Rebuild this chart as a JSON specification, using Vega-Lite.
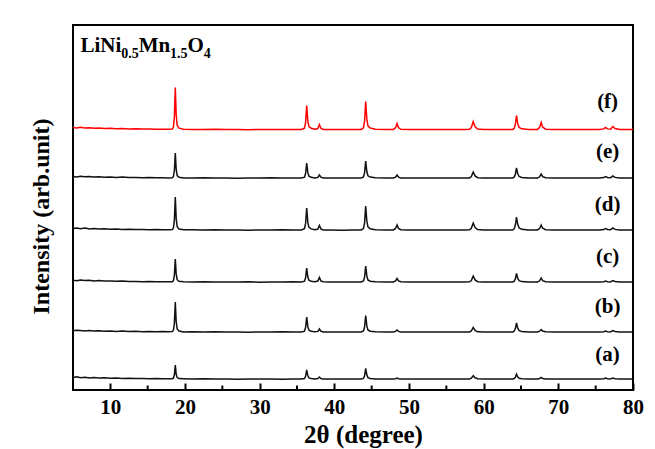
{
"$schema":"https://vega.github.io/schema/vega-lite/v6.json",
"width":560,"height":365,
"autosize":{"type":"none"},
"padding":{"left":73,"top":25,"right":22,"bottom":59},
"background":"white",
"config":{"view":{"stroke":"black","strokeWidth":2}},
"layer":[
{"data":{"values":[
{"x":5.0,"a":12.5,"b":59.2,"c":109.8,"d":161.4,"e":213.6,"f":262.5},
{"x":5.5,"a":13.2,"b":59.8,"c":109.2,"d":162.0,"e":213.1,"f":262.1},
{"x":6.0,"a":12.2,"b":59.5,"c":110.0,"d":161.3,"e":213.8,"f":262.7},
{"x":6.6,"a":12.8,"b":59.0,"c":109.4,"d":161.9,"e":213.2,"f":262.0},
{"x":7.2,"a":12.0,"b":59.6,"c":109.7,"d":161.1,"e":213.5,"f":262.3},
{"x":7.8,"a":12.5,"b":59.1,"c":109.0,"d":161.6,"e":212.9,"f":261.8},
{"x":8.5,"a":11.9,"b":59.3,"c":109.4,"d":161.0,"e":213.3,"f":261.9},
{"x":9.2,"a":12.3,"b":58.8,"c":108.9,"d":161.3,"e":212.8,"f":261.5},
{"x":10.0,"a":11.8,"b":59.1,"c":109.1,"d":160.8,"e":213.1,"f":261.7},
{"x":10.8,"a":12.1,"b":58.6,"c":108.7,"d":161.0,"e":212.6,"f":261.3},
{"x":11.6,"a":11.6,"b":58.9,"c":108.9,"d":160.6,"e":212.9,"f":261.4},
{"x":12.5,"a":11.8,"b":58.5,"c":108.5,"d":160.8,"e":212.4,"f":261.1},
{"x":13.4,"a":11.4,"b":58.7,"c":108.6,"d":160.4,"e":212.6,"f":261.2},
{"x":14.3,"a":11.6,"b":58.3,"c":108.3,"d":160.5,"e":212.3,"f":260.9},
{"x":15.2,"a":11.3,"b":58.5,"c":108.5,"d":160.3,"e":212.4,"f":261.0},
{"x":16.1,"a":11.4,"b":58.2,"c":108.2,"d":160.4,"e":212.2,"f":260.7},
{"x":17.0,"a":11.2,"b":58.4,"c":108.3,"d":160.2,"e":212.3,"f":260.8},
{"x":17.8,"a":11.3,"b":58.2,"c":108.2,"d":160.3,"e":212.1,"f":260.7},
{"x":18.3,"a":11.3,"b":58.4,"c":108.3,"d":160.4,"e":212.3,"f":260.9},
{"x":18.45,"a":11.8,"b":59.8,"c":109.4,"d":162.0,"e":213.5,"f":263.0},
{"x":18.58,"a":15.2,"b":67.0,"c":114.9,"d":169.9,"e":219.5,"f":273.1},
{"x":18.7,"a":25,"b":88,"c":131,"d":193,"e":237,"f":302.5},
{"x":18.82,"a":15.9,"b":68.5,"c":116.1,"d":171.6,"e":220.8,"f":275.2},
{"x":18.95,"a":12.4,"b":61.0,"c":110.3,"d":163.3,"e":214.5,"f":264.7},
{"x":19.2,"a":11.4,"b":58.9,"c":108.7,"d":161.0,"e":212.8,"f":261.8},
{"x":19.8,"a":11.2,"b":58.1,"c":108.2,"d":160.2,"e":212.1,"f":260.7},
{"x":21.0,"a":10.9,"b":58.3,"c":107.9,"d":160.3,"e":211.9,"f":260.6},
{"x":22.5,"a":11.2,"b":57.9,"c":108.2,"d":159.9,"e":212.2,"f":260.4},
{"x":24.0,"a":10.9,"b":58.2,"c":107.9,"d":160.2,"e":211.9,"f":260.7},
{"x":25.5,"a":11.1,"b":57.9,"c":108.1,"d":159.9,"e":212.1,"f":260.4},
{"x":27.0,"a":10.8,"b":58.1,"c":107.9,"d":160.1,"e":211.8,"f":260.6},
{"x":28.5,"a":11.1,"b":57.8,"c":108.2,"d":159.8,"e":212.1,"f":260.3},
{"x":30.0,"a":10.9,"b":58.1,"c":107.8,"d":160.1,"e":211.9,"f":260.6},
{"x":31.5,"a":11.1,"b":57.9,"c":108.1,"d":159.9,"e":212.2,"f":260.4},
{"x":33.0,"a":10.8,"b":58.2,"c":107.9,"d":160.2,"e":211.9,"f":260.6},
{"x":34.5,"a":11.1,"b":57.9,"c":108.2,"d":159.9,"e":212.1,"f":260.4},
{"x":35.6,"a":11.0,"b":58.1,"c":108.0,"d":160.1,"e":212.0,"f":260.6},
{"x":36.0,"a":11.5,"b":58.9,"c":108.8,"d":161.3,"e":212.9,"f":261.9},
{"x":36.15,"a":13.7,"b":62.5,"c":112.2,"d":166.6,"e":216.5,"f":267.7},
{"x":36.3,"a":20,"b":73,"c":122,"d":182,"e":227,"f":284.5},
{"x":36.45,"a":14.2,"b":63.3,"c":112.9,"d":167.7,"e":217.3,"f":268.9},
{"x":36.6,"a":12.1,"b":59.8,"c":109.7,"d":162.6,"e":213.8,"f":263.4},
{"x":36.9,"a":11.5,"b":58.8,"c":108.7,"d":161.1,"e":212.8,"f":261.7},
{"x":37.4,"a":11.1,"b":58.2,"c":108.2,"d":160.2,"e":212.1,"f":260.8},
{"x":37.8,"a":11.4,"b":58.6,"c":108.9,"d":160.9,"e":212.6,"f":261.5},
{"x":38.0,"a":13,"b":61,"c":112.5,"d":164.5,"e":215,"f":265.5},
{"x":38.2,"a":11.5,"b":58.8,"c":109.1,"d":161.1,"e":212.8,"f":261.8},
{"x":38.5,"a":11.1,"b":58.1,"c":108.2,"d":160.1,"e":212.1,"f":260.6},
{"x":39.5,"a":10.9,"b":58.0,"c":107.9,"d":160.0,"e":211.9,"f":260.4},
{"x":41.0,"a":11.1,"b":57.9,"c":108.1,"d":159.8,"e":212.1,"f":260.6},
{"x":42.5,"a":10.9,"b":58.1,"c":107.9,"d":160.1,"e":211.9,"f":260.4},
{"x":43.6,"a":11.1,"b":58.0,"c":108.1,"d":160.0,"e":212.1,"f":260.6},
{"x":43.9,"a":11.6,"b":59.0,"c":109.0,"d":161.4,"e":213.0,"f":262.2},
{"x":44.05,"a":14.2,"b":63.0,"c":112.8,"d":167.2,"e":217.1,"f":268.9},
{"x":44.2,"a":21.7,"b":74.5,"c":124,"d":184,"e":229,"f":288.5},
{"x":44.35,"a":15.1,"b":64.3,"c":114.1,"d":169.1,"e":218.5,"f":271.1},
{"x":44.5,"a":12.4,"b":60.1,"c":110.1,"d":163.1,"e":214.2,"f":264.1},
{"x":44.8,"a":11.5,"b":58.8,"c":108.8,"d":161.2,"e":212.9,"f":261.9},
{"x":45.5,"a":11.1,"b":58.2,"c":108.2,"d":160.3,"e":212.2,"f":260.8},
{"x":47.0,"a":10.9,"b":58.0,"c":107.9,"d":160.0,"e":211.9,"f":260.5},
{"x":47.9,"a":11.1,"b":58.1,"c":108.1,"d":160.1,"e":212.1,"f":260.6},
{"x":48.2,"a":11.3,"b":58.6,"c":109.1,"d":161.5,"e":212.9,"f":262.3},
{"x":48.4,"a":12,"b":60,"c":111.5,"d":165,"e":215,"f":266.5},
{"x":48.6,"a":11.3,"b":58.6,"c":109.1,"d":161.5,"e":212.9,"f":262.3},
{"x":48.9,"a":11.0,"b":58.1,"c":108.2,"d":160.3,"e":212.1,"f":260.7},
{"x":50.0,"a":11.1,"b":57.9,"c":108.0,"d":160.1,"e":211.9,"f":260.5},
{"x":51.5,"a":10.9,"b":58.1,"c":107.9,"d":159.9,"e":212.1,"f":260.4},
{"x":53.0,"a":11.1,"b":57.9,"c":108.1,"d":160.1,"e":211.9,"f":260.6},
{"x":54.5,"a":10.9,"b":58.1,"c":107.9,"d":159.9,"e":212.1,"f":260.4},
{"x":56.0,"a":11.1,"b":57.9,"c":108.1,"d":160.1,"e":211.9,"f":260.6},
{"x":57.5,"a":10.9,"b":58.1,"c":107.9,"d":159.9,"e":212.1,"f":260.4},
{"x":58.1,"a":11.1,"b":58.1,"c":108.2,"d":160.2,"e":212.1,"f":260.7},
{"x":58.35,"a":11.8,"b":59.1,"c":109.5,"d":161.8,"e":213.5,"f":262.5},
{"x":58.6,"a":14.3,"b":62.5,"c":114,"d":167,"e":218,"f":268.5},
{"x":58.85,"a":12.2,"b":59.6,"c":110.1,"d":162.5,"e":214.1,"f":263.3},
{"x":59.2,"a":11.2,"b":58.2,"c":108.3,"d":160.4,"e":212.3,"f":260.9},
{"x":60.0,"a":10.9,"b":58.0,"c":107.9,"d":160.0,"e":211.9,"f":260.5},
{"x":61.5,"a":11.1,"b":57.9,"c":108.1,"d":159.9,"e":212.1,"f":260.4},
{"x":63.0,"a":10.9,"b":58.1,"c":107.9,"d":160.1,"e":211.9,"f":260.6},
{"x":63.9,"a":11.1,"b":58.0,"c":108.1,"d":160.0,"e":212.1,"f":260.5},
{"x":64.1,"a":11.5,"b":58.9,"c":108.9,"d":161.3,"e":213.0,"f":261.9},
{"x":64.25,"a":12.9,"b":61.6,"c":111.4,"d":165.2,"e":216,"f":266.1},
{"x":64.4,"a":15.7,"b":67,"c":116.5,"d":173,"e":222,"f":274.5},
{"x":64.55,"a":13.1,"b":62.1,"c":111.8,"d":165.9,"e":216.5,"f":266.8},
{"x":64.75,"a":11.7,"b":59.4,"c":109.3,"d":162.0,"e":213.5,"f":262.6},
{"x":65.1,"a":11.2,"b":58.5,"c":108.4,"d":160.7,"e":212.5,"f":261.2},
{"x":66.0,"a":10.9,"b":58.0,"c":108.0,"d":160.0,"e":211.9,"f":260.5},
{"x":67.2,"a":11.1,"b":58.1,"c":108.1,"d":160.1,"e":212.1,"f":260.6},
{"x":67.5,"a":11.5,"b":58.8,"c":109.2,"d":161.5,"e":213.2,"f":262.6},
{"x":67.7,"a":12.5,"b":60.5,"c":112,"d":165,"e":216,"f":267.5},
{"x":67.9,"a":11.5,"b":58.9,"c":109.4,"d":161.8,"e":213.4,"f":263.0},
{"x":68.3,"a":11.1,"b":58.2,"c":108.3,"d":160.3,"e":212.2,"f":260.8},
{"x":69.5,"a":10.9,"b":58.0,"c":107.9,"d":160.0,"e":211.9,"f":260.5},
{"x":71.0,"a":11.1,"b":57.9,"c":108.1,"d":159.9,"e":212.1,"f":260.4},
{"x":72.5,"a":10.9,"b":58.1,"c":107.9,"d":160.1,"e":211.9,"f":260.6},
{"x":74.0,"a":11.1,"b":57.9,"c":108.1,"d":159.9,"e":212.1,"f":260.4},
{"x":75.5,"a":10.9,"b":58.1,"c":107.9,"d":160.1,"e":211.9,"f":260.6},
{"x":76.1,"a":11.3,"b":58.3,"c":108.3,"d":160.5,"e":212.5,"f":261.1},
{"x":76.3,"a":12,"b":59,"c":109,"d":161.5,"e":213.5,"f":262.5},
{"x":76.6,"a":11.3,"b":58.3,"c":108.3,"d":160.5,"e":212.5,"f":261.1},
{"x":77.0,"a":11.1,"b":58.1,"c":108.1,"d":160.2,"e":212.2,"f":260.7},
{"x":77.1,"a":11.4,"b":58.6,"c":108.6,"d":160.8,"e":212.8,"f":261.7},
{"x":77.3,"a":12,"b":59.5,"c":109.5,"d":162,"e":214,"f":263.5},
{"x":77.6,"a":11.3,"b":58.5,"c":108.5,"d":160.6,"e":212.6,"f":261.4},
{"x":78.2,"a":10.9,"b":58.0,"c":108.0,"d":160.0,"e":212.0,"f":260.5},
{"x":79.0,"a":11.1,"b":57.9,"c":108.1,"d":159.9,"e":212.1,"f":260.4},
{"x":80.0,"a":10.9,"b":58.1,"c":107.9,"d":160.1,"e":211.9,"f":260.6}
]},
"transform":[{"fold":["a","b","c","d","e","f"],"as":["s","y"]}],
"mark":{"type":"line","strokeWidth":1.5,"interpolate":"linear"},
"encoding":{
"x":{"field":"x","type":"quantitative","scale":{"domain":[5,80],"nice":false,"zero":false},
"axis":{"values":[10,20,30,40,50,60,70,80],"tickSize":-7,"tickWidth":2,"tickColor":"black","domain":false,"grid":false,
"labelFont":"Liberation Serif","labelFontWeight":"bold","labelFontSize":21,"labelColor":"black","labelBaseline":"alphabetic","labelPadding":30,"labelFlush":false,
"title":"2θ (degree)","titleFont":"Liberation Serif","titleFontWeight":"bold","titleFontSize":25,"titleColor":"black","titleX":290,"titleY":52,"titleBaseline":"alphabetic"}},
"y":{"field":"y","type":"quantitative","scale":{"domain":[0,365],"nice":false,"zero":false},
"axis":{"ticks":false,"labels":false,"domain":false,"grid":false,"title":"Intensity (arb.unit)","titleFont":"Liberation Serif","titleFontWeight":"bold","titleFontSize":24,"titleColor":"black","titleX":-25,"titleY":191,"titleBaseline":"alphabetic","titleAngle":-90}},
"color":{"field":"s","type":"nominal","scale":{"domain":["a","b","c","d","e","f"],"range":["#111111","#111111","#111111","#111111","#111111","#ff0000"]},"legend":null}
}},
{"data":{"values":[{"m":15},{"m":25},{"m":35},{"m":45},{"m":55},{"m":65},{"m":75}]},
"mark":{"type":"rule","strokeWidth":2,"color":"black"},
"encoding":{"x":{"field":"m","type":"quantitative"},
"y":{"datum":0,"type":"quantitative"},"y2":{"datum":4.5}}},
{"data":{"values":[{"lx":76.6,"ly":35,"t":"(a)"},{"lx":76.6,"ly":83,"t":"(b)"},{"lx":76.6,"ly":133,"t":"(c)"},{"lx":76.6,"ly":185,"t":"(d)"},{"lx":76.6,"ly":238,"t":"(e)"},{"lx":76.6,"ly":288,"t":"(f)"}]},
"mark":{"type":"text","align":"center","baseline":"middle","font":"Liberation Serif","fontWeight":"bold","fontSize":21,"color":"black"},
"encoding":{"x":{"field":"lx","type":"quantitative"},
"y":{"field":"ly","type":"quantitative"},"text":{"field":"t"}}},
{"data":{"values":[{"tx":5.99,"ty":338.3,"t":"LiNi"},{"tx":13.79,"ty":338.3,"t":"Mn"},{"tx":20.34,"ty":338.3,"t":"O"}]},
"mark":{"type":"text","align":"left","baseline":"alphabetic","font":"Liberation Serif","fontWeight":"bold","fontSize":21,"color":"black"},
"encoding":{"x":{"field":"tx","type":"quantitative"},
"y":{"field":"ty","type":"quantitative"},"text":{"field":"t"}}},
{"data":{"values":[{"tx":11.45,"ty":331.7,"t":"0.5"},{"tx":18.0,"ty":331.7,"t":"1.5"},{"tx":22.52,"ty":331.7,"t":"4"}]},
"mark":{"type":"text","align":"left","baseline":"alphabetic","font":"Liberation Serif","fontWeight":"bold","fontSize":14,"color":"black"},
"encoding":{"x":{"field":"tx","type":"quantitative"},
"y":{"field":"ty","type":"quantitative"},"text":{"field":"t"}}}
]
}
